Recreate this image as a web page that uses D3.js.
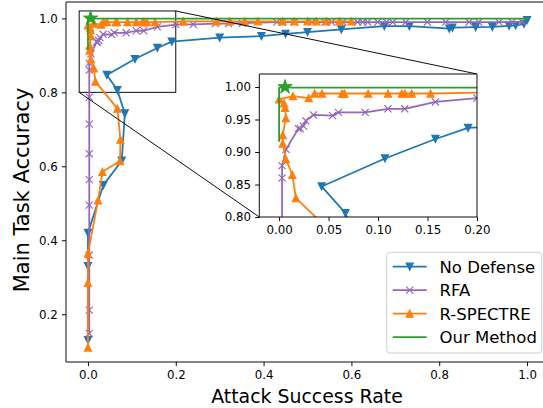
<!DOCTYPE html>
<html><head><meta charset="utf-8">
<script src="https://cdn.jsdelivr.net/npm/d3@7"></script>
<style>
html,body{margin:0;padding:0;background:#fff;}
svg{display:block;font-family:"DejaVu Sans",sans-serif;}
</style></head>
<body><svg id="chart" width="543" height="408"></svg>
<script>
// ---------------- data ----------------
const seriesNames = ["No Defense", "RFA", "R-SPECTRE", "Our Method"];
const seriesColors = ["#1f77b4", "#9467bd", "#ff7f0e", "#2ca02c"];
const seriesMarkers = ["down", "x", "up", "none"];

const noDefenseASR = [0, 0, 0, 0.035, 0.077, 0.084, 0.067, 0.043, 0.107, 0.158, 0.191, 0.30, 0.395, 0.45, 0.50, 0.577, 0.675, 0.732, 0.823, 0.83, 0.883, 0.921, 0.959, 0.974, 0.993, 1.0];
const noDefenseAcc = [0.13, 0.33, 0.42, 0.549, 0.615, 0.743, 0.806, 0.847, 0.89, 0.92, 0.937, 0.948, 0.952, 0.958, 0.963, 0.970, 0.979, 0.979, 0.972, 0.975, 0.976, 0.977, 0.98, 0.981, 0.985, 0.995];

const rfaASR = [0.003, 0.003, 0.003, 0.003, 0.003, 0.003, 0.003, 0.003, 0.003, 0.003, 0.007, 0.0195, 0.0215, 0.0246, 0.027, 0.0347, 0.054, 0.060, 0.087, 0.110, 0.127, 0.158, 0.20, 0.24, 0.29, 0.32, 0.352, 0.43, 0.443, 0.47, 0.51, 0.54, 0.555, 0.58, 0.614, 0.626, 0.637, 0.66, 0.68, 0.694, 0.724, 0.773, 0.815, 0.868, 0.89, 0.936, 0.966, 0.989];
const rfaAcc = [0.148, 0.211, 0.36, 0.495, 0.564, 0.634, 0.714, 0.787, 0.86, 0.879, 0.904, 0.936, 0.936, 0.940, 0.948, 0.957, 0.956, 0.961, 0.961, 0.9665, 0.9665, 0.977, 0.983, 0.984, 0.986, 0.986, 0.987, 0.99, 0.99, 0.99, 0.99, 0.99, 0.99, 0.99, 0.99, 0.99, 0.99, 0.99, 0.99, 0.99, 0.99, 0.99, 0.99, 0.99, 0.99, 0.99, 0.99, 0.991];

const spectreASR = [0, 0, 0, 0.023, 0.033, 0.073, 0.074, 0.067, 0.017, 0.0134, 0.0068, 0.0037, 0.0037, 0.0068, 0.006, 0.005, 0.0, 0.014, 0.03, 0.036, 0.0434, 0.0636, 0.066, 0.09, 0.11, 0.124, 0.127, 0.134, 0.153, 0.217, 0.293, 0.323, 0.357, 0.387, 0.443, 0.47, 0.50, 0.52, 0.543, 0.573, 0.60];
const spectreAcc = [0.11, 0.285, 0.364, 0.508, 0.585, 0.614, 0.672, 0.756, 0.829, 0.865, 0.889, 0.913, 0.926, 0.952, 0.968, 0.975, 0.981, 0.986, 0.983, 0.99, 0.99, 0.99, 0.99, 0.99, 0.99, 0.99, 0.99, 0.99, 0.99, 0.992, 0.992, 0.992, 0.992, 0.992, 0.992, 0.992, 0.992, 0.992, 0.992, 0.992, 0.992];

const oursASR = [0, 0, 1.0];
const oursAcc = [0.917, 0.999, 0.999];
const oursStarASR = [0.006];
const oursStarAcc = [1.0];

const mainXTicks = [0.0, 0.2, 0.4, 0.6, 0.8, 1.0];
const mainYTicks = [0.2, 0.4, 0.6, 0.8, 1.0];
const insetXTicks = [0.00, 0.05, 0.10, 0.15, 0.20];
const insetYTicks = [0.80, 0.85, 0.90, 0.95, 1.00];
const xLabel = "Attack Success Rate";
const yLabel = "Main Task Accuracy";

// ---------------- drawing ----------------
const series = [
  {x: noDefenseASR, y: noDefenseAcc},
  {x: rfaASR, y: rfaAcc},
  {x: spectreASR, y: spectreAcc},
  {x: oursASR, y: oursAcc}
].map((s, i) => ({name: seriesNames[i], color: seriesColors[i], marker: seriesMarkers[i],
  pts: s.x.map((v, j) => [v, s.y[j]])}));

const svg = d3.select("#chart");
svg.append("rect").attr("width", 543).attr("height", 408).attr("fill", "#fff");

const LW = 1.77, MS = 7.1, MEW = 1.18;
const TICKFONT = 11.8;

function markerPath(type) {
  const h = MS / 2;
  if (type === "up") return `M0,${-h}L${-h},${h}L${h},${h}Z`;
  if (type === "down") return `M0,${h}L${-h},${-h}L${h},${-h}Z`;
  if (type === "x") return `M${-h},${-h}L${h},${h}M${-h},${h}L${h},${-h}`;
  return "";
}

function drawSeries(g, xs, ys) {
  const line = d3.line().x(d => xs(d[0])).y(d => ys(d[1]));
  series.forEach(s => {
    g.append("path").datum(s.pts).attr("d", line).attr("fill", "none")
      .attr("stroke", s.color).attr("stroke-width", LW).attr("stroke-linejoin", "round").attr("stroke-linecap", "square");
    if (s.marker !== "none") {
      g.selectAll(null).data(s.pts).enter().append("path")
        .attr("transform", d => `translate(${xs(d[0])},${ys(d[1])})`)
        .attr("d", markerPath(s.marker))
        .attr("fill", s.marker === "x" ? "none" : s.color)
        .attr("stroke", s.color).attr("stroke-width", MEW).attr("stroke-linejoin", "miter");
    }
  });
  const starPts = oursStarASR.map((v, i) => [v, oursStarAcc[i]]);
  g.selectAll(null).data(starPts).enter().append("path")
    .attr("transform", d => `translate(${xs(d[0])},${ys(d[1])})`)
    .attr("d", d3.symbol(d3.symbolStar, 62)())
    .attr("fill", seriesColors[3]).attr("stroke", seriesColors[3]).attr("stroke-width", 1);
}

function drawAxes(g, xs, ys, xt, yt, fmt, spines) {
  const [x0, x1] = xs.range(), [y0, y1] = ys.range();
  const ax = g.append("g").attr("transform", `translate(0,${y0})`)
    .call(d3.axisBottom(xs).tickValues(xt).tickFormat(d3.format(fmt)).tickSize(4.1).tickPadding(4.1));
  const ay = g.append("g").attr("transform", `translate(${x0},0)`)
    .call(d3.axisLeft(ys).tickValues(yt).tickFormat(d3.format(fmt)).tickSize(4.1).tickPadding(4.1));
  [ax, ay].forEach(a => {
    a.select(".domain").remove();
    a.selectAll(".tick line").attr("stroke", "#000").attr("stroke-width", 0.95);
    a.selectAll(".tick text").attr("fill", "#000").style("font-size", TICKFONT + "px").style("font-family", "DejaVu Sans");
  });
  const sp = g.append("g").attr("fill", "none").attr("stroke", "#000").attr("stroke-width", 0.95);
  if (spines.includes("l")) sp.append("line").attr("x1", x0).attr("x2", x0).attr("y1", y0).attr("y2", y1);
  if (spines.includes("r")) sp.append("line").attr("x1", x1).attr("x2", x1).attr("y1", y0).attr("y2", y1);
  if (spines.includes("t")) sp.append("line").attr("x1", x0).attr("x2", x1).attr("y1", y1).attr("y2", y1);
  if (spines.includes("b")) sp.append("line").attr("x1", x0).attr("x2", x1).attr("y1", y0).attr("y2", y0);
}

// main axes
const x = d3.scaleLinear().domain([-0.05, 1.05]).range([66, 549]);
const y = d3.scaleLinear().domain([0.0708, 1.04425]).range([362, 2]);

const defs = svg.append("defs");
defs.append("clipPath").attr("id", "clipMain").append("rect")
  .attr("x", 66).attr("y", 2).attr("width", 483).attr("height", 360);

const mainG = svg.append("g");
const ixDom = [-0.02, 0.2], iyDom = [0.8, 1.02];
mainG.append("rect")
  .attr("x", x(ixDom[0])).attr("y", y(iyDom[1]))
  .attr("width", x(ixDom[1]) - x(ixDom[0])).attr("height", y(iyDom[0]) - y(iyDom[1]))
  .attr("fill", "none").attr("stroke", "#000").attr("stroke-width", 0.95);

const mainData = mainG.append("g").attr("clip-path", "url(#clipMain)");
drawSeries(mainData, x, y);
drawAxes(mainG, x, y, mainXTicks, mainYTicks, ".1f", "ltb");

// axis labels
svg.append("text").attr("x", 307).attr("y", 403).attr("text-anchor", "middle")
  .style("font-size", "18.9px").attr("fill", "#000").text(xLabel);
svg.append("text").attr("transform", "translate(29,190) rotate(-90)").attr("text-anchor", "middle")
  .style("font-size", "21px").attr("fill", "#000").text(yLabel);

// inset axes
const xi = d3.scaleLinear().domain(ixDom).range([259.3, 477]);
const yi = d3.scaleLinear().domain(iyDom).range([217, 74]);

const conn = svg.append("g").attr("stroke", "#000").attr("stroke-width", 0.95);
conn.append("line").attr("x1", x(ixDom[1])).attr("y1", y(iyDom[1])).attr("x2", xi.range()[1]).attr("y2", yi.range()[1]);
conn.append("line").attr("x1", x(ixDom[0])).attr("y1", y(iyDom[0])).attr("x2", xi.range()[0]).attr("y2", yi.range()[0]);

const insetG = svg.append("g");
insetG.append("rect").attr("x", 259.3).attr("y", 74).attr("width", 477 - 259.3).attr("height", 217 - 74).attr("fill", "#fff");
defs.append("clipPath").attr("id", "clipInset").append("rect")
  .attr("x", 259.3).attr("y", 74).attr("width", 477 - 259.3).attr("height", 217 - 74);
const insetData = insetG.append("g").attr("clip-path", "url(#clipInset)");
drawSeries(insetData, xi, yi);
drawAxes(insetG, xi, yi, insetXTicks, insetYTicks, ".2f", "lrtb");

// legend
const lg = svg.append("g");
const LX = 386.7, LY = 252.3, LWd = 155, LH = 100.7;
lg.append("rect").attr("x", LX).attr("y", LY).attr("width", LWd).attr("height", LH)
  .attr("rx", 3.3).attr("ry", 3.3).attr("fill", "#fff").attr("fill-opacity", 0.8)
  .attr("stroke", "#cccccc").attr("stroke-width", 0.95);
series.forEach((s, i) => {
  const cy = 266.7 + i * 23.45;
  lg.append("line").attr("x1", 392.7).attr("x2", 426.7).attr("y1", cy).attr("y2", cy)
    .attr("stroke", s.color).attr("stroke-width", LW);
  if (s.marker !== "none") {
    lg.append("path").attr("transform", `translate(409.7,${cy})`).attr("d", markerPath(s.marker))
      .attr("fill", s.marker === "x" ? "none" : s.color).attr("stroke", s.color).attr("stroke-width", MEW);
  }
  lg.append("text").attr("x", 439.5).attr("y", cy + 5.9).style("font-size", "16.5px").attr("fill", "#000").text(s.name);
});
</script>
</body></html>
